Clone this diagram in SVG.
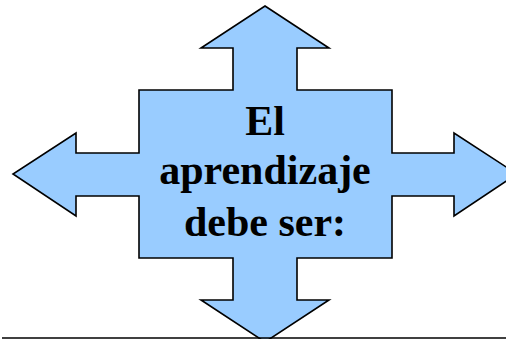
<svg xmlns="http://www.w3.org/2000/svg" width="506" height="339" viewBox="0 0 506 339">
<style>
.shape{fill:#99CCFF;stroke:#000;stroke-width:1.6;stroke-linejoin:miter}
.t{font-family:"Liberation Serif","Times New Roman",serif;font-weight:bold;font-size:42px;fill:#000;text-anchor:middle}
</style>
<rect width="506" height="339" fill="#fff"/>
<g id="quad-arrow">
<polygon class="shape" points="265,6 329,48 297,48 297,90 392,90 392,153 454,153 454,133 517,174 454,216 454,196 392,196 392,258 297,258 297,300 329,300 265,342 201,300 233,300 233,258 139,258 139,196 76,196 76,216 13,174 76,133 76,153 139,153 139,90 233,90 233,48 201,48"/>
<text class="t" x="265" y="135">El</text>
<text class="t" x="265" y="184">aprendizaje</text>
<text class="t" x="265" y="236">debe ser:</text>
</g>
<g id="connectors">
<line x1="2" y1="338" x2="506" y2="338" stroke="#000" stroke-width="1.6"/>
</g>
</svg>
